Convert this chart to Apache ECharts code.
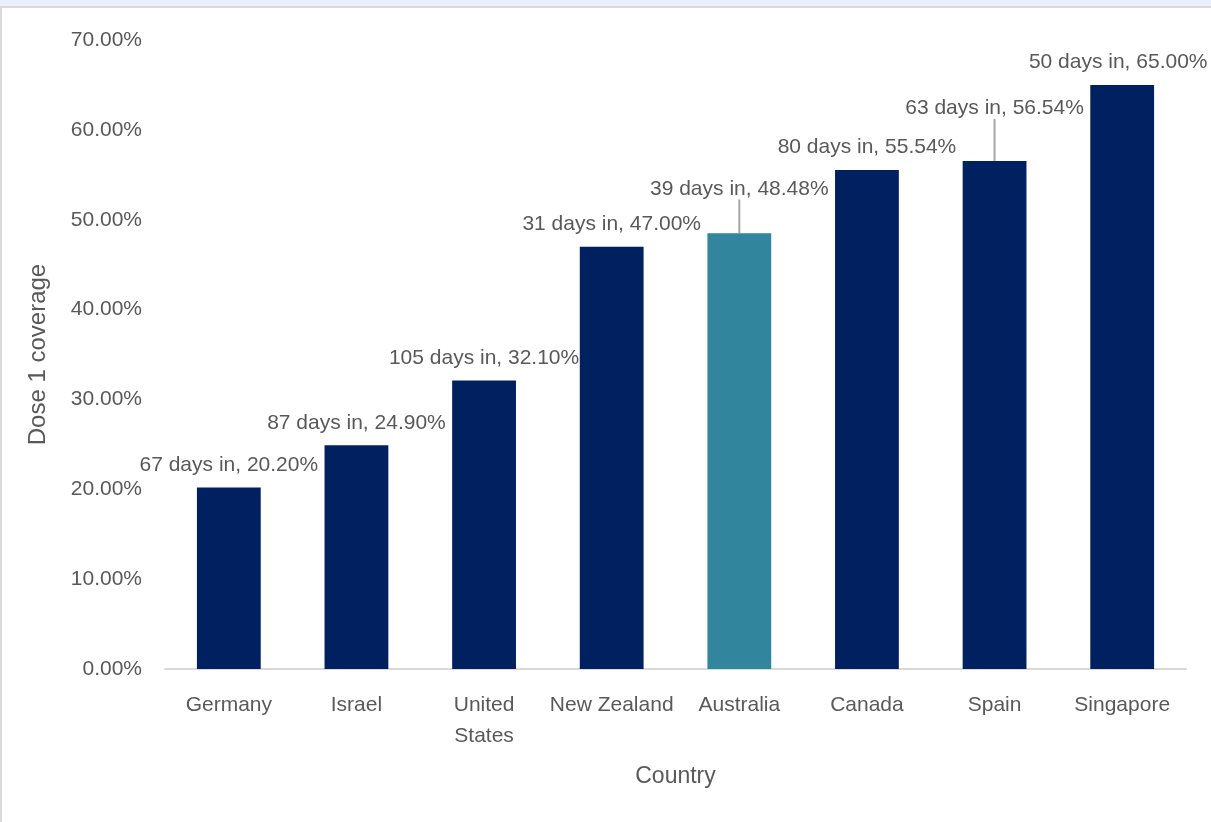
<!DOCTYPE html>
<html>
<head>
<meta charset="utf-8">
<script src="https://cdn.jsdelivr.net/npm/echarts@6/dist/echarts.min.js"></script>
<style>
  html, body { margin: 0; padding: 0; width: 1211px; height: 822px; overflow: hidden; background: #ffffff; }
  #strip { position: absolute; left: 0; top: 0; width: 1211px; height: 6px; background: #e9f0fb; }
  #frame { position: absolute; left: 0; top: 6px; width: 1209px; height: 816px; border-top: 2px solid #dadada; border-left: 2px solid #dadada; background: #ffffff; }
  #chart { position: absolute; left: 0; top: 0; width: 1211px; height: 822px; }
</style>
</head>
<body>
<div id="strip"></div>
<div id="frame"></div>
<div id="chart"></div>
<script>
const categories = ['Germany', 'Israel', 'United\nStates', 'New Zealand', 'Australia', 'Canada', 'Spain', 'Singapore'];
const coverage = [0.2020, 0.2490, 0.3210, 0.4700, 0.4848, 0.5554, 0.5654, 0.6500];
const daysIn = [67, 87, 105, 31, 39, 80, 63, 50];
const highlight = 'Australia';
const yTicks = { min: 0, max: 0.7, interval: 0.1 };

const FONT = '"Liberation Sans Narrow", "Liberation Sans", Arial, sans-serif';
const TXT = '#595959';
const labelShift = { 'Australia': { dy: -22 }, 'Spain': { dy: -30 }, 'Singapore': { dx: -4 } };
const withLeader = ['Australia', 'Spain'];

const chart = echarts.init(document.getElementById('chart'), null, { renderer: 'canvas' });
chart.setOption({
  backgroundColor: 'transparent',
  animation: false,
  grid: { left: 165, right: 25, top: 40, bottom: 153, containLabel: false },
  xAxis: {
    type: 'category',
    data: categories,
    name: 'Country',
    nameLocation: 'middle',
    nameGap: 96,
    nameTextStyle: { color: TXT, fontSize: 23, fontFamily: FONT },
    axisLine: { lineStyle: { color: '#d9d9d9', width: 2 } },
    axisTick: { show: false },
    axisLabel: { color: TXT, fontSize: 21, fontFamily: FONT, margin: 21, lineHeight: 31, interval: 0 }
  },
  yAxis: {
    type: 'value',
    min: yTicks.min, max: yTicks.max, interval: yTicks.interval,
    name: 'Dose 1 coverage',
    nameLocation: 'middle',
    nameGap: 115,
    nameTextStyle: { color: TXT, fontSize: 24, fontFamily: FONT },
    axisLine: { show: false },
    axisTick: { show: false },
    splitLine: { show: false },
    axisLabel: { color: TXT, fontSize: 21, fontFamily: FONT, margin: 23,
      formatter: v => (v * 100).toFixed(2) + '%' }
  },
  series: [{
    type: 'bar',
    barWidth: '50%',
    data: coverage.map((v, i) => ({
      value: v,
      itemStyle: { color: categories[i] === highlight ? '#31859c' : '#002060' },
      labelLine: { show: withLeader.indexOf(categories[i]) >= 0 }
    })),
    label: {
      show: true,
      position: 'top',
      distance: 12,
      color: TXT,
      fontSize: 21,
      fontFamily: FONT,
      formatter: p => daysIn[p.dataIndex] + ' days in, ' + (coverage[p.dataIndex] * 100).toFixed(2) + '%'
    },
    labelLayout: p => {
      const name = categories[p.dataIndex];
      return labelShift[name] ? labelShift[name] : {};
    },
    labelLine: { show: false, lineStyle: { color: '#a6a6a6', width: 2 } }
  }]
});
</script>
</body>
</html>
